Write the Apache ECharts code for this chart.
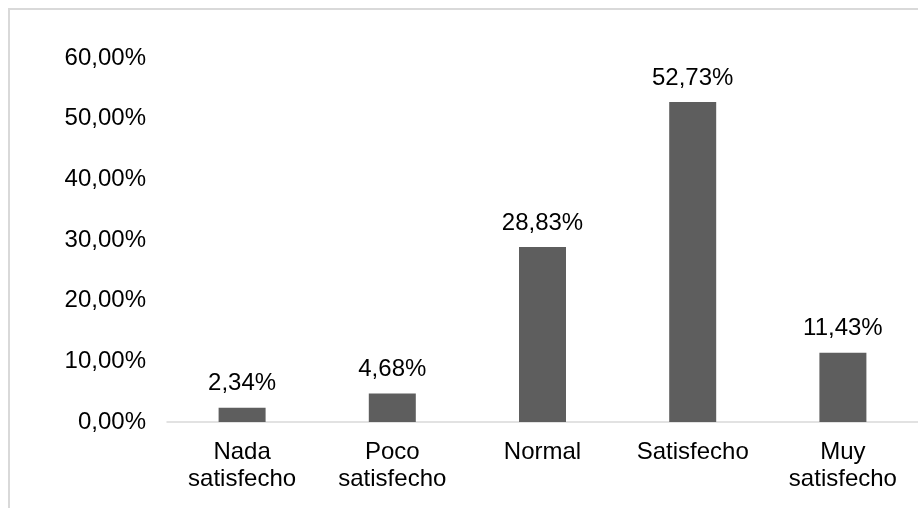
<!DOCTYPE html>
<html>
<head>
<meta charset="utf-8">
<script src="https://cdn.jsdelivr.net/npm/echarts@6/dist/echarts.min.js"></script>
<style>
  html, body { margin: 0; padding: 0; background: #fff; }
  #chart { width: 918px; height: 508px; }
</style>
</head>
<body>
<div id="chart"></div>
<script>
// Satisfaction levels and their share of responses (%)
const categories = ['Nada\nsatisfecho', 'Poco\nsatisfecho', 'Normal', 'Satisfecho', 'Muy\nsatisfecho'];
const shares = [2.34, 4.68, 28.83, 52.73, 11.43];
const yTicks = [0, 10, 20, 30, 40, 50, 60];

const fmt = v => v.toFixed(2).replace('.', ',') + '%';
const font = 'Liberation Sans, Arial, sans-serif';

const chart = echarts.init(document.getElementById('chart'), null, { renderer: 'canvas' });
chart.setOption({
  animation: false,
  backgroundColor: '#fff',
  graphic: [{
    type: 'rect',
    shape: { x: 9, y: 9, width: 940, height: 540 },
    style: { fill: 'none', stroke: '#d9d9d9', lineWidth: 2 },
    silent: true
  }],
  grid: { left: 167, top: 58, width: 755, height: 364, containLabel: false },
  xAxis: {
    type: 'category',
    data: categories,
    axisLine: { show: true, lineStyle: { color: '#d9d9d9', width: 1.5 } },
    axisTick: { show: false },
    axisLabel: {
      color: '#000', fontFamily: font, fontSize: 24, lineHeight: 27, margin: 17, interval: 0
    }
  },
  yAxis: {
    type: 'value',
    min: yTicks[0],
    max: yTicks[yTicks.length - 1],
    interval: 10,
    axisLine: { show: false },
    axisTick: { show: false },
    splitLine: { show: false },
    axisLabel: {
      color: '#000', fontFamily: font, fontSize: 24, margin: 21,
      formatter: v => fmt(v)
    }
  },
  series: [{
    type: 'bar',
    data: shares,
    barWidth: 47,
    itemStyle: { color: '#5e5e5e' },
    label: {
      show: true, position: 'top', distance: 12,
      color: '#000', fontFamily: font, fontSize: 24,
      formatter: p => fmt(p.value)
    }
  }]
});
</script>
</body>
</html>
